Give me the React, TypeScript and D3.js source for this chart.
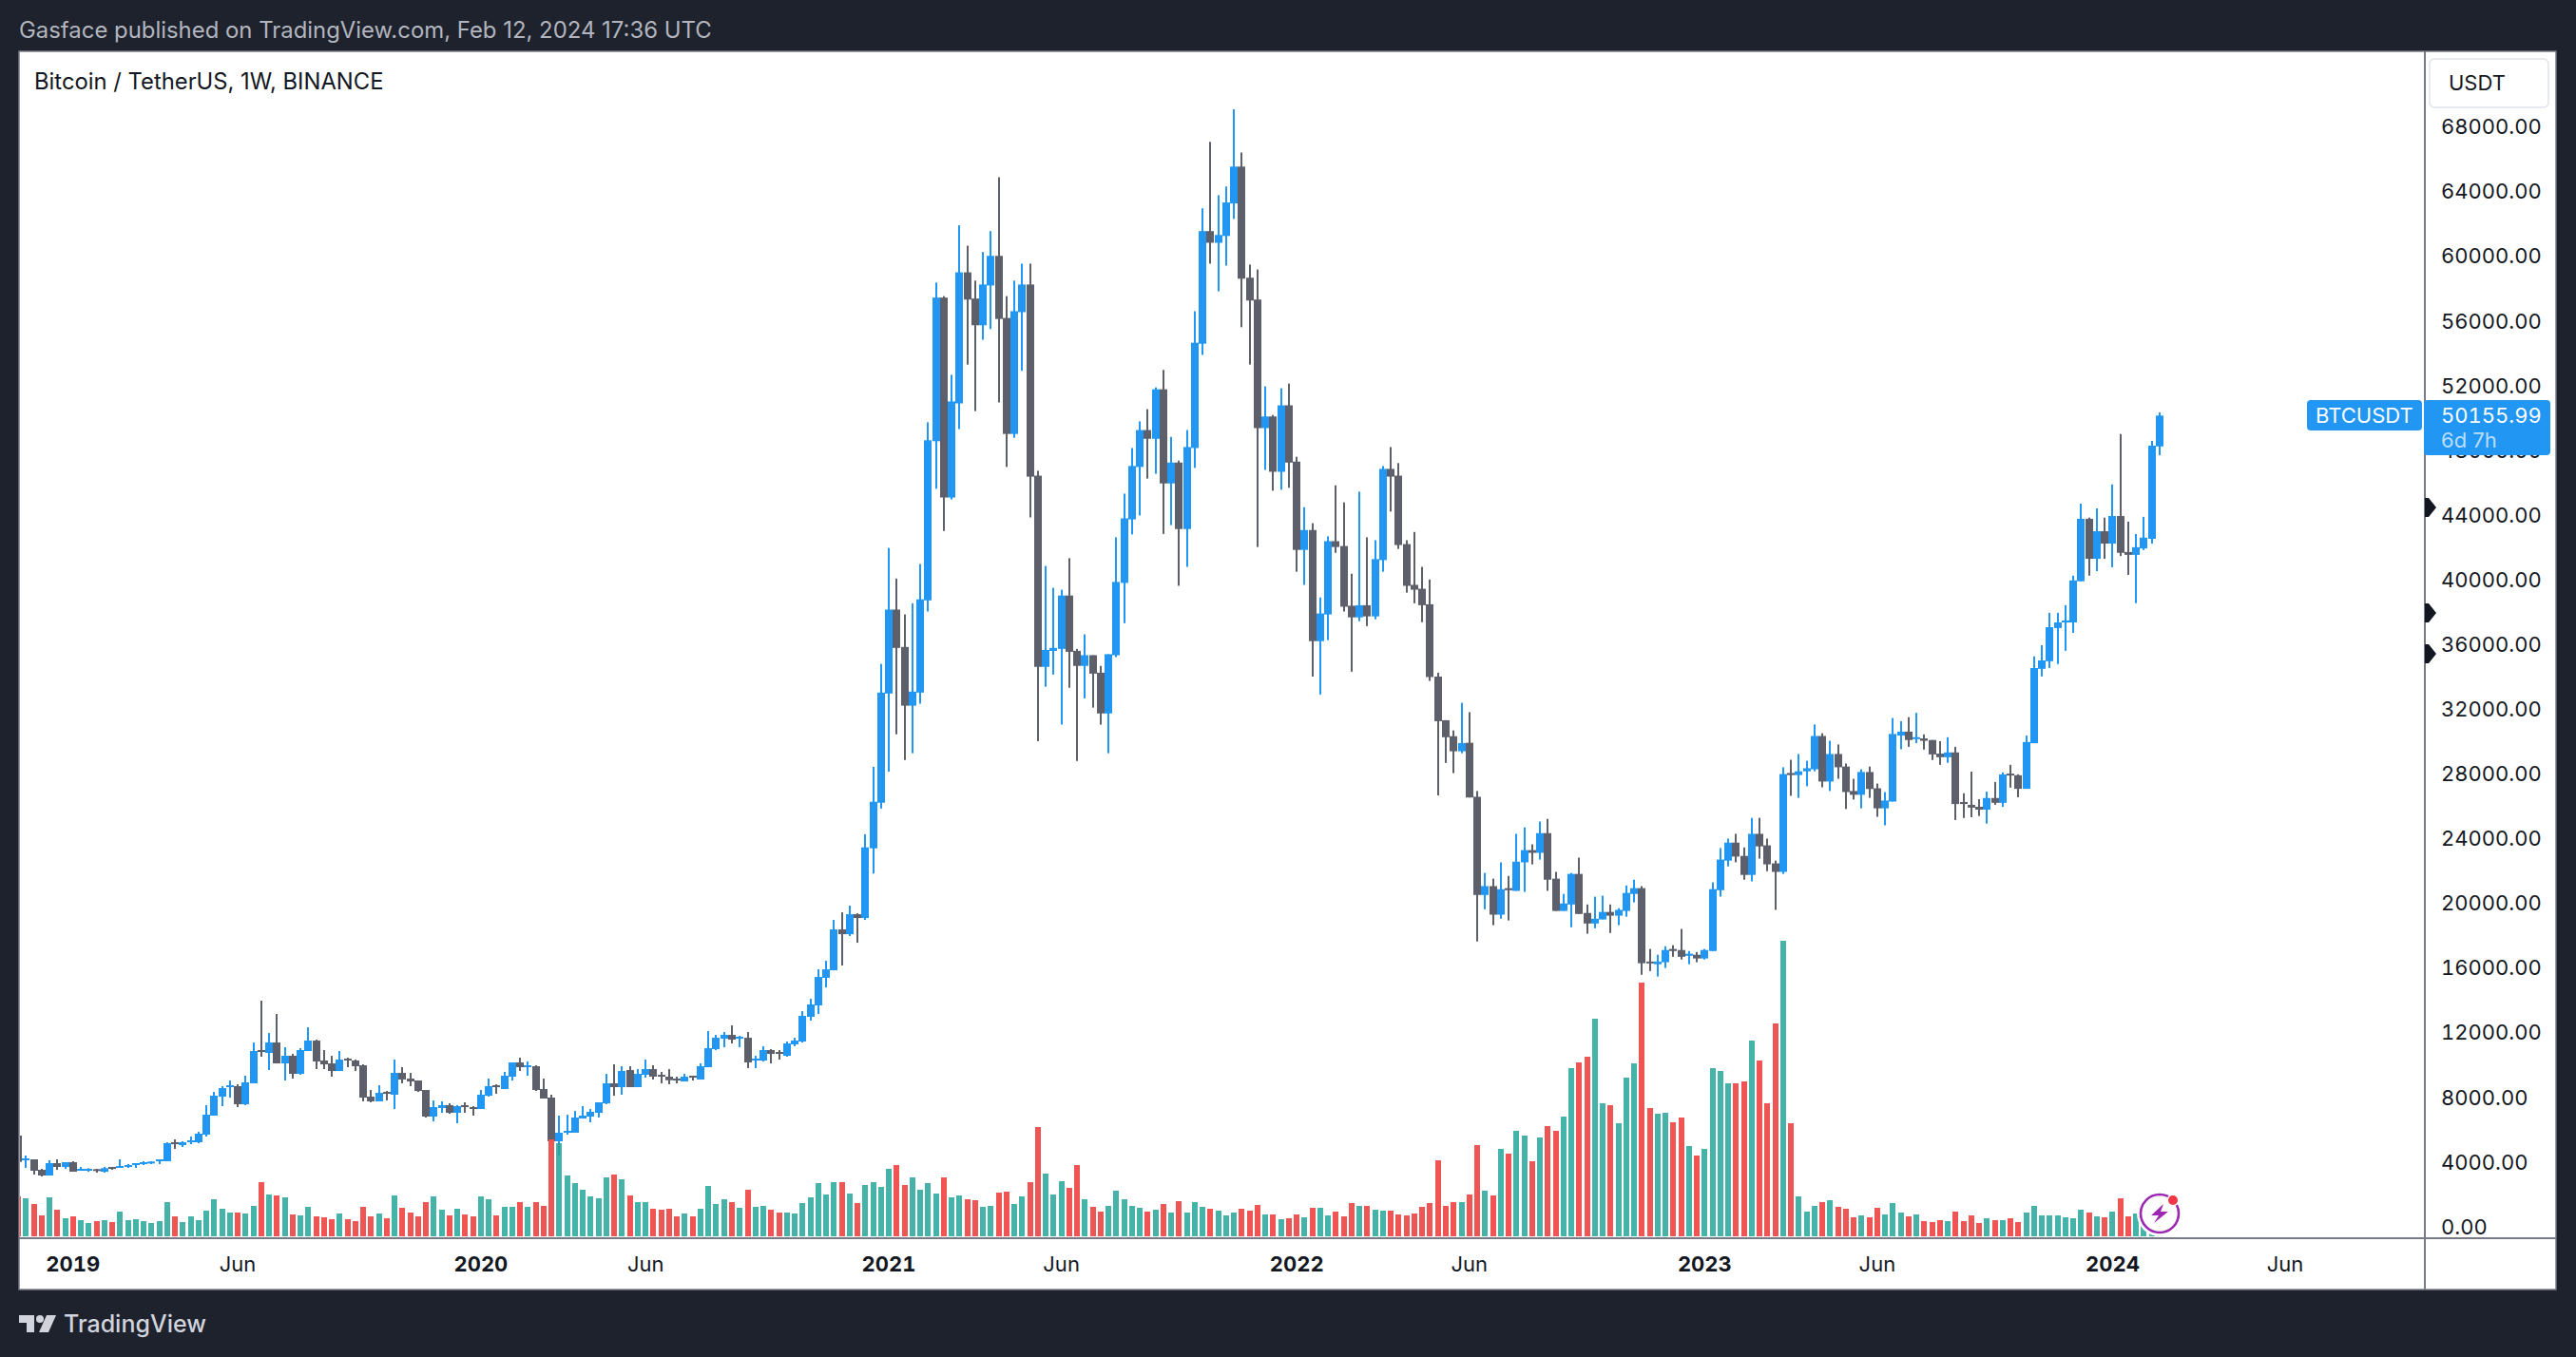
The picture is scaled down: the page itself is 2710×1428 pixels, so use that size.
import * as d3 from "d3";

// weekly candles (USDT)
const highs = [
  5640,4406,4171,3583,4112,4171,3994,4053,3701,3622,
  3583,3701,3701,4171,3877,3936,4053,4053,4171,5228,
  5404,5287,5580,5874,7519,8341,8694,9046,8811,9340,
  11396,13980,11983,13158,11102,10691,11043,12335,11572,10926,
  10573,10867,10456,10338,10045,8459,8752,8400,10338,9868,
  9516,9046,8459,7812,7754,7636,7519,7695,7460,8459,
  9163,8811,9575,10162,10456,10221,9986,9163,8165,6873,
  6931,7166,7460,7284,7695,9457,10045,9927,9927,9751,
  10338,9986,9575,9751,9281,9457,9340,10103,12100,11865,
  12042,12453,11807,12042,10573,11161,10984,10926,11454,11689,
  13334,14098,15919,16447,18973,19443,19854,19384,24270,28440,
  34800,41970,40080,37860,38550,40980,49740,58380,57540,52680,
  61920,60660,58500,60270,61560,64890,57540,58500,59550,59550,
  46740,40860,39510,39390,41340,35730,36630,35340,34680,35400,
  42630,45330,48150,49800,50550,51900,52980,48840,47370,49260,
  56610,62970,67080,63780,64320,69090,66420,59490,59190,51960,
  50190,51840,52140,47610,44490,43500,38910,42690,45840,44790,
  40380,45450,42630,42450,47040,48210,47220,42450,42960,40800,
  40020,34260,31320,30690,32400,31815,26943,21882,21525,22533,
  21693,24297,24696,23646,25053,25221,21945,20580,21882,22827,
  19929,20412,20475,19929,19698,21105,21462,21063,17178,16821,
  17346,17409,18417,17052,16989,17178,21294,23415,24003,24297,
  23457,25284,25284,24003,22638,28413,28875,29232,28812,31059,
  30513,30051,29820,28644,27699,28287,28455,27405,26880,31458,
  31259,31506,31778,30443,30096,30022,30270,29676,26807,28143,
  26436,26906,27500,28093,28563,27970,30368,35265,35957,37961,
  37961,38430,40260,44712,43846,44415,43846,45899,49015,43599,
  42832,43896,48594,50350,
];

const bodyHighs = [
  5640,4229,4171,3524,3936,3936,3994,3994,3583,3583,
  3564,3622,3701,3759,3818,3936,3994,4033,4171,5169,
  5228,5228,5345,5757,6931,8106,8576,8752,8694,8928,
  10867,10926,11396,11396,10573,10573,10926,11513,11513,10280,
  10103,10338,10397,10280,9986,8047,8282,8341,9516,9516,
  9163,9046,8459,7401,7519,7519,7460,7519,7401,8165,
  8694,8752,9340,10162,10162,9986,9927,8517,7989,5815,
  5933,6755,6873,7108,7695,8870,8870,9633,9692,9457,
  9751,9751,9398,9281,9163,9281,9340,9927,11043,11689,
  11865,11865,11748,11689,10397,10926,10926,10808,11337,11513,
  13040,13745,15449,15919,18386,18386,19325,19325,23460,26280,
  33030,38160,38160,35850,33090,38790,48630,57450,57450,51030,
  59010,59010,57390,58260,60030,60030,56190,56610,58260,58260,
  46440,35670,35790,39030,39030,35610,35340,35340,34260,35400,
  39870,43800,47040,49260,49260,51780,51780,47250,47250,48210,
  54660,61560,61560,61320,63330,65550,65550,58680,57330,50100,
  50100,50790,50790,47310,43080,43080,37920,42390,42390,42090,
  38400,38430,38430,41280,46860,46860,46440,42210,39690,39450,
  38490,34020,31320,30330,29910,29925,26586,21063,21063,20874,
  20937,22575,23289,23289,24339,24339,21525,19992,21819,21819,
  19404,19047,19467,19467,19593,20643,20937,20937,16401,16401,
  17115,17178,17115,16884,16821,17115,20874,22701,23751,23751,
  22932,24297,24297,23583,22470,27993,28056,28161,28350,30345,
  30345,29232,29232,28455,26943,28119,28119,27111,26355,30471,
  30616,30616,30270,30196,30096,29256,29330,29330,26263,26090,
  25967,26511,26511,27970,28019,27920,29973,34548,35018,37071,
  37367,37491,39964,43772,43772,43005,43005,43945,43945,41720,
  42016,42610,48297,50156,
];

const bodyLows = [
  4014,4151,3466,3172,3172,3701,3701,3407,3466,3466,
  3505,3407,3583,3642,3701,3818,3877,3936,4053,4053,
  5110,5052,5228,5228,5698,6873,8047,8635,7577,7577,
  8870,10808,10749,10103,10103,9457,9457,10867,10221,10045,
  9633,9633,10280,9927,7989,7754,7754,8224,8165,9105,
  8987,8400,6814,6814,7343,7049,7049,7401,7303,7284,
  8106,8635,8517,9281,9868,9868,8459,7930,5287,5287,
  5815,5815,6696,6814,7049,7636,8635,8635,8635,8635,
  9398,9281,9281,9065,9046,8987,9222,9105,9868,10984,
  11631,11572,11631,10162,10280,10280,10691,10749,10573,11278,
  11454,12982,13686,15390,15860,18092,18092,19091,19091,23400,
  26220,32970,35790,32220,32220,33030,38730,48570,45090,45090,
  50910,57330,55740,55740,58200,56130,49020,49020,56550,46380,
  34620,34620,35610,35730,35550,34680,34680,34200,31740,31740,
  35340,39810,43740,46980,48720,48720,45960,45960,43140,43140,
  48150,54600,60840,60840,61260,63270,58620,57270,49380,49380,
  46680,46680,47250,41850,41850,36210,36210,37860,42030,38340,
  37680,37680,37740,37740,41220,46380,42150,39630,39390,38430,
  33990,31260,30270,29400,29400,26544,20517,20517,19299,19299,
  20811,20769,22533,23121,23121,21462,19530,19530,19929,19341,
  18753,18753,19005,19236,19236,19530,20580,16296,16296,16233,
  16359,17052,16695,16758,16590,16590,17052,20811,22638,22890,
  21756,21756,23520,22407,21945,21945,27930,27930,28161,28287,
  27531,27531,28413,26880,26712,26712,27069,25872,25872,26292,
  30368,30096,30171,30047,29206,29033,29033,26140,26140,25917,
  25793,25793,26214,26214,27920,27079,27079,29899,34498,34968,
  37021,37367,37367,39914,41299,41299,42239,42239,41670,41546,
  41546,41942,42536,48248,
];

const lows = [
  4014,3642,3231,3113,3172,3524,3583,3407,3466,3407,
  3348,3348,3524,3642,3642,3642,3818,3877,3877,4053,
  4817,4934,5110,5169,5580,6873,7460,7989,7401,7519,
  8870,10514,9692,10103,9046,9163,9398,10867,9751,9751,
  9281,9633,9868,9633,7754,7695,7754,7812,7284,8870,
  8694,8341,6755,6520,7049,6990,6403,7049,6873,7284,
  8047,8224,8517,9046,9633,9340,8400,7930,5287,4406,
  5698,5815,6696,6461,6755,7577,8106,8165,8635,8635,
  9222,9105,8870,8811,8870,8987,9046,9105,9868,10926,
  11102,11337,11102,9810,9810,10221,10103,10338,10514,11161,
  11396,12747,13158,14802,15860,16154,17974,17563,18973,21840,
  25860,28140,30450,28860,29280,32340,38040,45630,43020,44970,
  49320,53310,50430,54840,55500,50970,46980,48780,52920,43860,
  30030,33390,34140,31050,33330,28800,32670,32100,31050,29280,
  35220,37320,42810,43980,46260,46560,42840,43380,39630,40800,
  46920,53910,59550,57840,59430,62310,55620,53310,42030,46800,
  45510,45570,45690,40500,39690,34020,32910,36270,41670,38040,
  34320,37440,37140,37560,40500,44220,41910,39210,38550,37380,
  33750,26670,28680,28050,29280,26544,17640,19635,18648,19047,
  18942,20769,20706,22407,22701,20769,19530,19530,18522,19341,
  18123,18459,19005,18165,18648,19173,20055,15582,15813,15477,
  16002,16695,16527,16233,16359,16527,17052,20412,22281,22533,
  21462,21357,22764,21987,19593,21819,26649,26523,27237,28161,
  27174,26943,27699,25830,26418,25872,26523,25347,24822,26292,
  29528,29676,29899,29503,28860,28563,28687,25150,25274,25324,
  25398,24928,26090,25967,27154,26560,27079,29899,34028,34548,
  34795,35611,36724,39914,40260,40532,41299,40780,41472,40310,
  38554,41843,42239,47704,
];

// U = week closed up, D = closed down
const directions =
  "DUDDUDUDUU" + "DUDUUUUUUU" + "DUUUUUUUDU" + "UDUDUDUUDD" + "DUDDDDUDUD" +
  "DDDUUDUDDU" + "UDUUDUDDDU" + "UUUUUUDUDU" + "UDDDDUDUUU" + "UDUDUUDDUU" +
  "UUUUUDUDUU" + "UUDDUUUUDU" + "UDDUUDDUUD" + "DUUUDDUDDU" + "UUUUDUDUDU" +
  "UUDUUUDDDU" + "DUDDUDUUDD" + "DUDUUDDDDD" + "DDDDUDDUDU" + "DUUDUDDUUD" +
  "DUUDUUUDDU" + "UDDUDUUUUD" + "DUDDDUDUUU" + "DUDDDUDDUU" + "UDUDDDUDDD" +
  "DUDUDDUUUU" + "UUUUDUDUDD" + "UUUU";

// no volume axis on the chart, so these are relative units
const volumes = [
  126,120,102,66,123,84,57,63,51,42,
  48,51,45,78,51,54,48,42,48,108,
  63,45,63,51,81,117,87,75,75,72,
  96,171,132,129,123,69,66,93,63,60,
  54,72,54,48,93,63,72,57,129,90,
  75,63,108,126,84,66,87,69,63,126,
  117,66,93,93,108,93,108,96,306,294,
  192,168,147,126,120,186,195,180,129,108,
  108,87,84,87,63,72,63,87,159,102,
  117,108,90,147,93,96,84,75,75,72,
  105,123,168,132,171,171,135,105,162,171,
  156,213,225,162,186,147,168,135,186,123,
  129,117,114,93,96,138,141,102,126,171,
  345,198,132,174,153,225,117,93,78,96,
  144,117,96,90,78,84,102,75,111,75,
  108,93,87,81,66,75,87,81,99,69,
  69,54,57,69,60,90,90,66,78,63,
  105,96,96,84,81,81,69,66,72,93,
  105,240,96,108,108,132,288,144,129,276,
  261,333,318,237,312,348,333,378,531,549,
  567,687,420,414,357,501,546,801,405,387,
  390,360,375,285,255,276,531,522,483,483,
  489,618,555,420,672,933,357,126,78,96,
  108,114,93,87,60,66,60,90,69,105,
  75,63,69,48,45,51,48,78,48,66,
  42,57,51,51,57,45,75,96,66,66,
  66,60,57,84,75,63,60,78,120,63,
  72,38,18,3,
];

const priceTicks = d3.range(0, 68001, 4000);
const timeTickIdx = [7, 28, 59, 80, 111, 133, 163, 185, 215, 237, 267, 289];
const timeTickLabels = ["2019", "Jun", "2020", "Jun", "2021", "Jun", "2022", "Jun", "2023", "Jun", "2024", "Jun"];
const alertPrices = [44475, 37950, 35425];
const lastPrice = 50155.99;

const FONT = "Inter, 'Noto Sans', sans-serif";
const BG = "#1e222d";
const LINE = "#787b86";
const BLUE = "#2196f3";
const GRAY = "#5d606b";
const INK = "#131722";
const TNUM = { fontVariantNumeric: "tabular-nums" };

export default function App() {
  const W = 2710;
  const H = 1428;
  const frame = { left: 20, right: 2689, top: 54, bottom: 1357 };
  const axisX = 2551;
  const axisY = 1303;

  const x = d3.scaleLinear().domain([0, 273]).range([19, 2272]);
  const y = d3.scaleLinear().domain([0, 68000]).range([1291, 133.6]);
  const vol = d3.scaleLinear().domain([0, 933]).range([1301, 990]);
  const fmt = d3.format(".2f");

  return (
    <svg width={W} height={H} style={{ position: "fixed", left: 0, top: 0 }} fontFamily={FONT}>
      <defs>
        <clipPath id="plot">
          <rect x={frame.left + 1} y={frame.top} width={axisX - frame.left - 2} height={axisY - frame.top} />
        </clipPath>
      </defs>
      <rect width={W} height={H} fill={BG} />
      <text x={20} y={32} dy="0.35em" fontSize={23.9} fill="#b2b5be">
        Gasface published on TradingView.com, Feb 12, 2024 17:36 UTC
      </text>
      <rect x={frame.left} y={frame.top} width={frame.right - frame.left} height={frame.bottom - frame.top} fill="#fff" stroke={LINE} strokeWidth={1.5} />
      <text x={36} y={86} dy="0.35em" fontSize={23.8} fill={INK}>Bitcoin / TetherUS, 1W, BINANCE</text>

      <g clipPath="url(#plot)">
        {highs.map((h, i) => {
          const cx = Math.round(x(i));
          const c = directions[i] === "U" ? BLUE : GRAY;
          return (
            <g key={i} fill={c}>
              <rect x={cx - 1} y={y(h)} width={2} height={y(lows[i]) - y(h)} />
              <rect x={cx - 4} y={y(bodyHighs[i])} width={8} height={Math.max(2, y(bodyLows[i]) - y(bodyHighs[i]))} />
            </g>
          );
        })}
        {volumes.map((v, i) => {
          const up = directions[i] === "U";
          return (
            <rect
              key={i}
              x={Math.round(x(i)) - 3}
              y={vol(v)}
              width={6}
              height={vol(0) - vol(v)}
              fill={up ? "#26a69a" : "#ef5350"}
              opacity={up ? 0.85 : 0.98}
            />
          );
        })}
      </g>

      {/* lightning marker on the last bars */}
      <g transform={`translate(${x(273)},1277)`}>
        <circle r={24} fill="#fff" />
        <circle r={20} fill="#fff" stroke="#9c27b0" strokeWidth={2.6} />
        <path d="M4 -10 L-9 2 L-1 2 L-6 10 L9 -2 L1 -2 Z" fill="#9c27b0" />
        <circle cx={14} cy={-14} r={6.5} fill="#fff" />
        <circle cx={14} cy={-14} r={5} fill="#f23645" />
      </g>

      <line x1={frame.left} x2={frame.right} y1={axisY} y2={axisY} stroke={LINE} strokeWidth={2} />
      <line x1={axisX} x2={axisX} y1={frame.top} y2={frame.bottom} stroke={LINE} strokeWidth={2} />

      {priceTicks.map((p) => (
        <text key={p} x={2568} y={y(p)} dy="0.35em" fontSize={22} fill={INK} style={TNUM}>{fmt(p)}</text>
      ))}

      {timeTickIdx.map((idx, i) => {
        const isYear = timeTickLabels[i] !== "Jun";
        return (
          <text key={i} x={x(idx)} y={1330} dy="0.35em" textAnchor="middle" fontSize={22} fontWeight={isYear ? 700 : 400} fill={INK} style={TNUM}>
            {timeTickLabels[i]}
          </text>
        );
      })}

      {/* currency button */}
      <rect x={2556} y={62} width={125} height={51} rx={5} fill="#fff" stroke="#e0e3eb" strokeWidth={1.5} />
      <text x={2576} y={87} dy="0.35em" fontSize={22} fill={INK}>USDT</text>

      {alertPrices.map((p) => (
        <path key={p} d={`M${axisX} ${y(p) - 10} L${axisX + 4} ${y(p) - 10} L${axisX + 12} ${y(p)} L${axisX + 4} ${y(p) + 10} L${axisX} ${y(p) + 10} Z`} fill={INK} />
      ))}

      {/* last price tags */}
      <rect x={2427} y={421} width={121} height={32} rx={4} fill={BLUE} />
      <text x={2436} y={437} dy="0.35em" fontSize={22} fill="#fff">BTCUSDT</text>
      <rect x={2550} y={421} width={133} height={58} rx={4} fill={BLUE} />
      <text x={2568} y={437} dy="0.35em" fontSize={22} fill="#fff" style={TNUM}>{fmt(lastPrice)}</text>
      <text x={2568} y={463} dy="0.35em" fontSize={22} fill="#fff" fillOpacity={0.7}>6d 7h</text>

      {/* TradingView logo */}
      <g fill="#d1d4dc">
        <path d="M20 1384 H36 V1402 H28 V1392 H20 Z" />
        <circle cx={42} cy={1388} r={4} />
        <path d="M49 1384 H59 L51 1402 H41 Z" />
      </g>
      <text x={67} y={1393} dy="0.35em" fontSize={25} fontWeight={500} fill="#d1d4dc">TradingView</text>
    </svg>
  );
}
